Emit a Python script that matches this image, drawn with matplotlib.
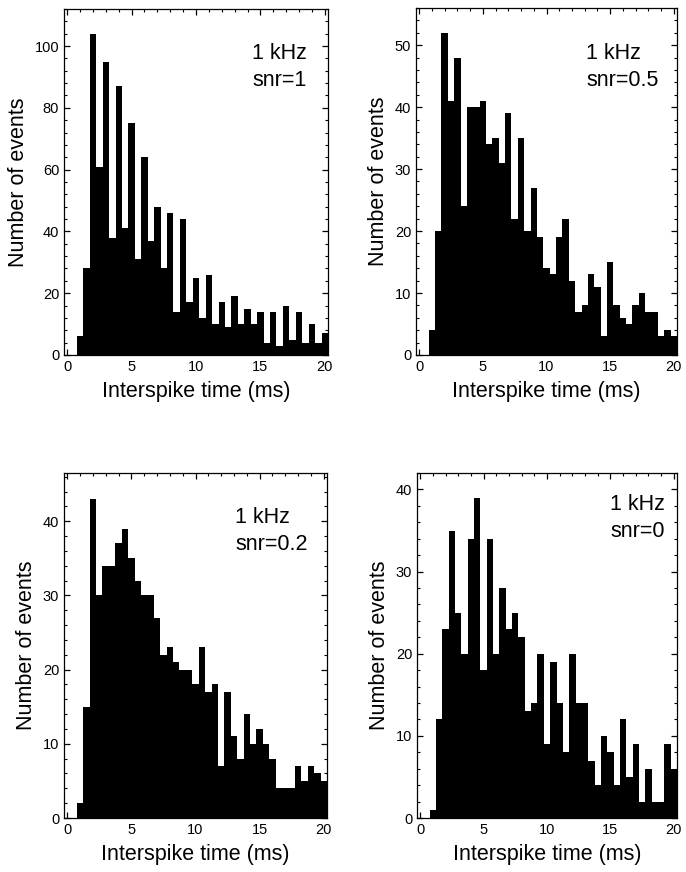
import numpy as np
import matplotlib
matplotlib.use("Agg")
import matplotlib.pyplot as plt
from matplotlib.ticker import MultipleLocator

plt.rcParams['font.family'] = ['Liberation Sans', 'DejaVu Sans']

# histogram counts, bins 0.5 ms wide starting at 0.75 ms
bin_start = 0.75
bin_width = 0.5
counts_snr1 = [6, 28, 104, 61, 95, 38, 87, 41, 75, 31, 64, 37, 48, 28, 46, 14, 44, 17, 25, 12,
               26, 10, 17, 9, 19, 10, 15, 10, 14, 4, 14, 3, 16, 5, 14, 4, 10, 4, 7]
counts_snr05 = [4, 20, 52, 41, 48, 24, 40, 40, 41, 34, 35, 31, 39, 22, 35, 20, 27, 19, 14, 13,
                19, 22, 12, 7, 8, 13, 11, 3, 15, 8, 6, 5, 8, 10, 7, 7, 3, 4, 3]
counts_snr02 = [2, 15, 43, 30, 34, 34, 37, 39, 35, 32, 30, 30, 27, 22, 23, 21, 20, 20, 18, 23,
                17, 18, 7, 17, 11, 8, 14, 10, 12, 10, 8, 4, 4, 4, 7, 5, 7, 6, 5]
counts_snr0 = [1, 12, 23, 35, 25, 20, 34, 39, 18, 34, 20, 28, 23, 25, 22, 13, 14, 20, 9, 19,
               14, 8, 20, 14, 14, 7, 4, 10, 8, 4, 12, 5, 9, 2, 6, 2, 2, 9, 6]

labels = ['snr=1', 'snr=0.5', 'snr=0.2', 'snr=0']
all_counts = [counts_snr1, counts_snr05, counts_snr02, counts_snr0]
ymax = [112, 56, 46.5, 42]
ymajor = [20, 10, 10, 10]
yminor = [4, 2, 2, 2]

# axes boxes in pixels: left, top, right, bottom
W, H = 686, 872
boxes = [(64, 9, 328, 355), (416, 8, 677, 355),
         (64, 473, 327, 818), (417, 473, 677, 818)]
text_pos = [(252, 67), (586, 67), (235, 531), (610, 518)]

fig = plt.figure(figsize=(W / 100, H / 100), dpi=100)

for i in range(4):
    l, t, r, b = boxes[i]
    ax = fig.add_axes([l / W, 1 - b / H, (r - l) / W, (b - t) / H])
    c = all_counts[i]
    lefts = bin_start + bin_width * np.arange(len(c))
    ax.bar(lefts, c, width=bin_width, align='edge', color='black', linewidth=0)
    ax.set_xlim(-0.25, 20.25)
    ax.set_ylim(0, ymax[i])
    ax.xaxis.set_major_locator(MultipleLocator(5))
    ax.xaxis.set_minor_locator(MultipleLocator(1))
    ax.yaxis.set_major_locator(MultipleLocator(ymajor[i]))
    ax.yaxis.set_minor_locator(MultipleLocator(yminor[i]))
    ax.tick_params(which='both', direction='in', top=True, right=True, labelsize=10.5)
    ax.tick_params(which='major', length=4, width=0.9)
    ax.tick_params(which='minor', length=2.5, width=0.8)
    for s in ax.spines.values():
        s.set_linewidth(0.9)
    ax.set_xlabel('Interspike time (ms)', fontsize=15.5, labelpad=5)
    ax.set_ylabel('Number of events', fontsize=15.5, labelpad=4)
    tx, ty = text_pos[i]
    fig.text(tx / W, 1 - ty / H, '1 kHz\n' + labels[i], fontsize=15.5,
             ha='left', va='center', linespacing=1.35)

fig.savefig('out.png', dpi=100)
